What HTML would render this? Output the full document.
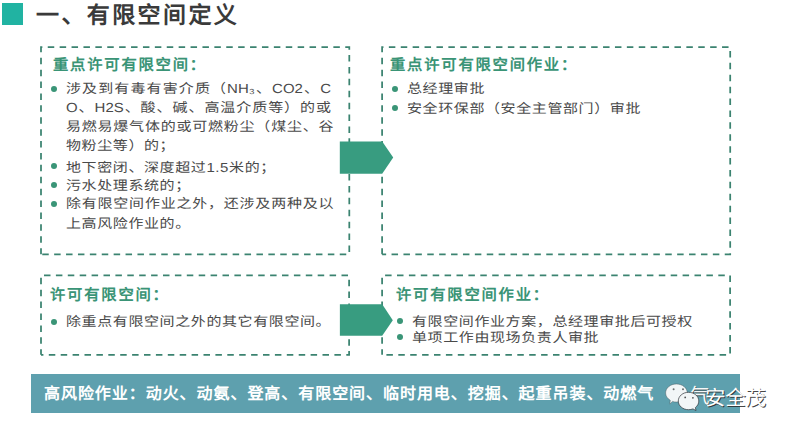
<!DOCTYPE html>
<html lang="zh-CN">
<head>
<meta charset="utf-8">
<style>
html,body{margin:0;padding:0;background:#fff;}
body{width:786px;height:422px;position:relative;overflow:hidden;font-family:"Liberation Sans",sans-serif;text-rendering:geometricPrecision;}
.a{position:absolute;white-space:nowrap;line-height:1;}
.sq{position:absolute;left:2px;top:3px;width:21px;height:21.5px;background:#21b3a2;}
.title{left:36px;top:3.5px;font-size:23px;font-weight:bold;color:#3a3a3a;letter-spacing:2.4px;}
.hd{font-size:15.3px;font-weight:bold;color:#3a9476;letter-spacing:1.8px;}
.tx{font-size:15px;color:#4a4a4a;letter-spacing:0.6px;transform:scaleY(0.88);transform-origin:0 0;}
.j{text-align:justify;text-align-last:justify;letter-spacing:0;}
.dot{position:absolute;width:6px;height:6px;border-radius:50%;background:#3a9577;}
.ban{position:absolute;left:31px;top:374px;width:709px;height:38.5px;background:#5ea0ae;}
.bt{left:44px;top:387px;font-size:16px;font-weight:bold;color:#fff;letter-spacing:0.95px;}
svg{position:absolute;left:0;top:0;}
</style>
</head>
<body>
<div class="sq"></div>
<div class="a title">一、有限空间定义</div>

<svg width="786" height="422">
  <g fill="none" stroke="#3b8370" stroke-width="1.75" stroke-dasharray="6.5 5.4">
    <path d="M41 254.3V47.2H349.3V254.3H41" stroke-dashoffset="0.35"/>
    <path d="M382.1 254.3V47.2H730.2V254.3H382.1" stroke-dashoffset="0.35"/>
    <path d="M41 354.8V275.4H349.1V354.8H41" stroke-dashoffset="0.9"/>
    <path d="M382.1 354.8V275.4H730.1V354.8H382.1" stroke-dashoffset="0.9"/>
  </g>
  <polygon points="339.8,141.5 382.2,141.5 393.2,157.5 382.2,173.7 339.8,173.7" fill="#389c80"/>
  <polygon points="339.9,304.2 382.2,304.2 392.8,320.2 382.2,335.8 339.9,335.8" fill="#389c80"/>
</svg>

<!-- TL box -->
<div class="a hd" style="left:53px;top:57.5px;">重点许可有限空间：</div>
<div class="dot" style="left:50.5px;top:86px;"></div>
<div class="a tx j" style="left:66px;top:81.8px;width:265px;">涉及到有毒有害介质（NH₃、CO2、C</div>
<div class="a tx j" style="left:66px;top:100.9px;width:265px;">O、H2S、酸、碱、高温介质等）的或</div>
<div class="a tx j" style="left:66px;top:120.2px;width:267.5px;">易燃易爆气体的或可燃粉尘（煤尘、谷</div>
<div class="a tx" style="left:66px;top:139.1px;">物粉尘等）的；</div>
<div class="dot" style="left:50.5px;top:163px;"></div>
<div class="a tx" style="left:66px;top:160.7px;">地下密闭、深度超过1.5米的；</div>
<div class="dot" style="left:50.5px;top:182px;"></div>
<div class="a tx" style="left:66px;top:179px;">污水处理系统的；</div>
<div class="dot" style="left:50.5px;top:201px;"></div>
<div class="a tx j" style="left:66px;top:197.2px;width:267.5px;">除有限空间作业之外，还涉及两种及以</div>
<div class="a tx" style="left:66px;top:216.6px;">上高风险作业的。</div>

<!-- TR box -->
<div class="a hd" style="left:390px;top:58px;">重点许可有限空间作业：</div>
<div class="dot" style="left:392px;top:86px;"></div>
<div class="a tx" style="left:407px;top:81.9px;">总经理审批</div>
<div class="dot" style="left:392px;top:105px;"></div>
<div class="a tx" style="left:407px;top:102.3px;">安全环保部（安全主管部门）审批</div>

<!-- BL box -->
<div class="a hd" style="left:50px;top:287.5px;">许可有限空间：</div>
<div class="dot" style="left:51px;top:318.5px;"></div>
<div class="a tx" style="left:66px;top:315px;">除重点有限空间之外的其它有限空间。</div>

<!-- BR box -->
<div class="a hd" style="left:396px;top:287.5px;">许可有限空间作业：</div>
<div class="dot" style="left:397px;top:317.5px;"></div>
<div class="a tx" style="left:412px;top:315px;">有限空间作业方案，总经理审批后可授权</div>
<div class="dot" style="left:397px;top:334px;"></div>
<div class="a tx" style="left:412px;top:331.4px;">单项工作由现场负责人审批</div>

<div class="ban"></div>
<div class="a bt">高风险作业：动火、动氨、登高、有限空间、临时用电、挖掘、起重吊装、动燃气</div>

<div class="a" style="left:689px;top:386.5px;font-size:20.5px;color:#f4f8f9;text-shadow:0.8px 0.8px 0 rgba(50,50,50,.8);">气</div>
<svg width="786" height="422" style="left:0;top:0">
  <g>
    <path d="M676.4 384 C682.6 384 687.3 388 687.3 393 C687.3 398 682.6 402 676.4 402 C675 402 673.7 401.8 672.5 401.4 L669.8 404 L670.3 400.3 C667.5 398.6 665.6 396 665.6 393 C665.6 388 670.3 384 676.4 384Z" fill="#f2f6f7" stroke="rgba(70,80,85,.55)" stroke-width="0.8"/>
    <circle cx="673.6" cy="389.3" r="1" fill="#6b6f70"/>
    <circle cx="683" cy="389.3" r="1" fill="#6b6f70"/>
    <path d="M688.5 392.3 C694.2 392.3 698.8 396.2 698.8 401 C698.8 403.6 697.5 405.9 695.4 407.5 L696 410.6 L693 408.9 C691.6 409.4 690.1 409.7 688.5 409.7 C682.8 409.7 678.3 405.8 678.3 401 C678.3 396.2 682.8 392.3 688.5 392.3Z" fill="#f2f6f7" stroke="rgba(50,55,60,.8)" stroke-width="0.9"/>
    <circle cx="685.2" cy="397.4" r="0.9" fill="#505456"/>
    <circle cx="692.9" cy="397.8" r="0.9" fill="#505456"/>
  </g>
</svg>
<div class="a" style="left:705px;top:388.8px;font-size:20.5px;letter-spacing:-0.2px;color:#fff;text-shadow:0.9px 0.9px 0 rgba(45,45,45,.9);">安全茂</div>
</body>
</html>
